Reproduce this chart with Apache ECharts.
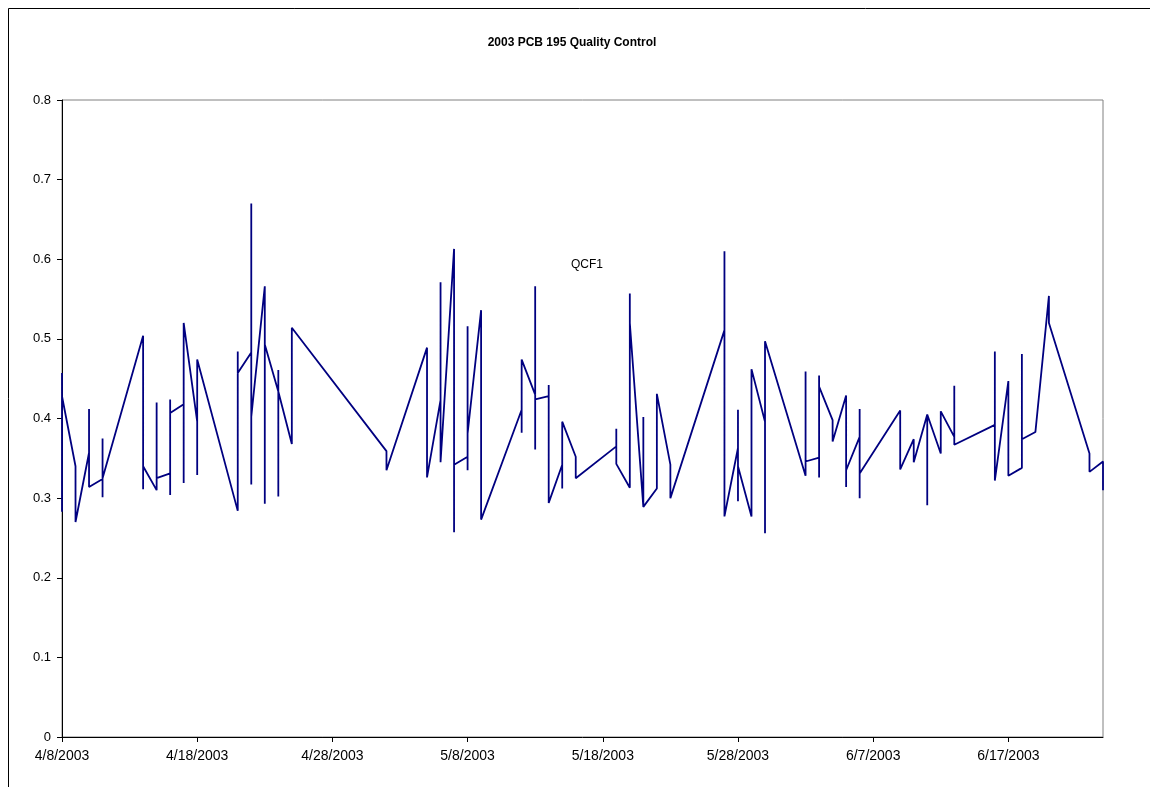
<!DOCTYPE html>
<html><head><meta charset="utf-8">
<script src="https://cdn.jsdelivr.net/npm/echarts@6/dist/echarts.min.js"></script>
<style>html,body{margin:0;padding:0;background:#fff}#c{width:1150px;height:787px}</style>
</head><body><div id="c"></div>
<script>
const chartTitle = '2003 PCB 195 Quality Control';
const seriesName = 'QCF1';
const startDate = '2003-04-08';
const endDate = '2003-06-24';
const xTickDays = [0, 10, 20, 30, 40, 50, 60, 70];
const yMin = 0, yMax = 0.8, yStep = 0.1;

// sample dates; several samples per date
const dates = [
  '2003-04-08','2003-04-09','2003-04-10','2003-04-11','2003-04-14','2003-04-15','2003-04-16','2003-04-17','2003-04-18',
  '2003-04-21','2003-04-22','2003-04-23','2003-04-24','2003-04-25','2003-05-02','2003-05-05','2003-05-06','2003-05-07',
  '2003-05-08','2003-05-09','2003-05-12','2003-05-13','2003-05-14','2003-05-15','2003-05-16','2003-05-19','2003-05-20',
  '2003-05-21','2003-05-22','2003-05-23','2003-05-27','2003-05-28','2003-05-29','2003-05-30','2003-06-02','2003-06-03',
  '2003-06-04','2003-06-05','2003-06-06','2003-06-09','2003-06-10','2003-06-11','2003-06-12','2003-06-13','2003-06-16',
  '2003-06-17','2003-06-18','2003-06-19','2003-06-20','2003-06-23','2003-06-24'
];
const values = [
  [0.457, 0.283, 0.428], [0.34, 0.27], [0.357, 0.412, 0.314], [0.324, 0.375, 0.301, 0.325],
  [0.504, 0.311, 0.34], [0.31, 0.42, 0.325], [0.331, 0.304, 0.424, 0.407], [0.418, 0.319, 0.52],
  [0.396, 0.329, 0.474], [0.284, 0.484, 0.457], [0.483, 0.67, 0.317, 0.402], [0.566, 0.293, 0.493],
  [0.434, 0.461, 0.302, 0.434], [0.368, 0.514], [0.359, 0.335], [0.489, 0.326], [0.423, 0.571, 0.345],
  [0.613, 0.257, 0.342], [0.352, 0.516, 0.335, 0.381], [0.536, 0.273], [0.411, 0.382, 0.474],
  [0.43, 0.566, 0.361, 0.424], [0.428, 0.442, 0.294], [0.342, 0.312, 0.396], [0.352, 0.325],
  [0.365, 0.387, 0.343], [0.313, 0.557, 0.52], [0.289, 0.402, 0.289], [0.312, 0.431], [0.342, 0.3],
  [0.511, 0.61, 0.277], [0.363, 0.411, 0.296, 0.34], [0.277, 0.462], [0.396, 0.256, 0.497],
  [0.328, 0.459, 0.346], [0.351, 0.326, 0.454, 0.44], [0.398, 0.371], [0.429, 0.314, 0.335],
  [0.377, 0.412, 0.3, 0.331], [0.41, 0.336], [0.374, 0.345], [0.405, 0.291, 0.405], [0.356, 0.409],
  [0.377, 0.441, 0.367], [0.392, 0.484, 0.322], [0.447, 0.328], [0.338, 0.481, 0.374], [0.383],
  [0.554, 0.52], [0.356, 0.333], [0.346, 0.31]
];

function utc(s){ const p = s.split('-').map(Number); return Date.UTC(p[0], p[1]-1, p[2]); }
const base = utc(startDate);
function dayIndex(s){ return Math.round((utc(s) - base) / 86400000); }
function dayLabel(d){ const t = new Date(base + d * 86400000); return (t.getUTCMonth()+1) + '/' + t.getUTCDate() + '/' + t.getUTCFullYear(); }

const seriesData = [];
dates.forEach((d, i) => values[i].forEach(v => seriesData.push([dayIndex(d), v])));

const font = 'Liberation Sans, Arial, sans-serif';
const chart = echarts.init(document.getElementById('c'), null, {renderer: 'canvas'});
chart.setOption({
  animation: false,
  backgroundColor: '#fff',
  grid: {left: 62, right: 47, top: 100, bottom: 50, show: true, borderColor: '#808080', borderWidth: 1, backgroundColor: 'transparent'},
  xAxis: {
    type: 'value', min: 0, max: dayIndex(endDate),
    axisLine: {show: true, onZero: false, lineStyle: {color: '#000', width: 1}},
    axisTick: {show: true, customValues: xTickDays, length: 5, lineStyle: {color: '#000'}},
    axisLabel: {customValues: xTickDays, formatter: v => dayLabel(v), color: '#000', fontSize: 14, fontFamily: font, margin: 12},
    splitLine: {show: false}
  },
  yAxis: {
    type: 'value', min: yMin, max: yMax, interval: yStep,
    axisLine: {show: true, lineStyle: {color: '#000', width: 1}},
    axisTick: {show: true, length: 5, lineStyle: {color: '#000'}},
    axisLabel: {color: '#000', fontSize: 13, fontFamily: font, margin: 11},
    splitLine: {show: false}
  },
  series: [{
    name: seriesName, type: 'line', data: seriesData, showSymbol: false, symbol: 'none',
    lineStyle: {color: '#000080', width: 1.8}, itemStyle: {color: '#000080'}
  }],
  graphic: [
    {type: 'rect', shape: {x: 8.5, y: 8.5, width: 1300, height: 1000}, style: {fill: 'none', stroke: '#000', lineWidth: 1}, silent: true},
    {type: 'text', style: {text: chartTitle, x: 572, y: 43, align: 'center', verticalAlign: 'middle', font: 'bold 12px ' + font, fill: '#000'}},
    {type: 'text', style: {text: seriesName, x: 587, y: 265, align: 'center', verticalAlign: 'middle', font: '12px ' + font, fill: '#000'}}
  ]
});
</script>
</body></html>
